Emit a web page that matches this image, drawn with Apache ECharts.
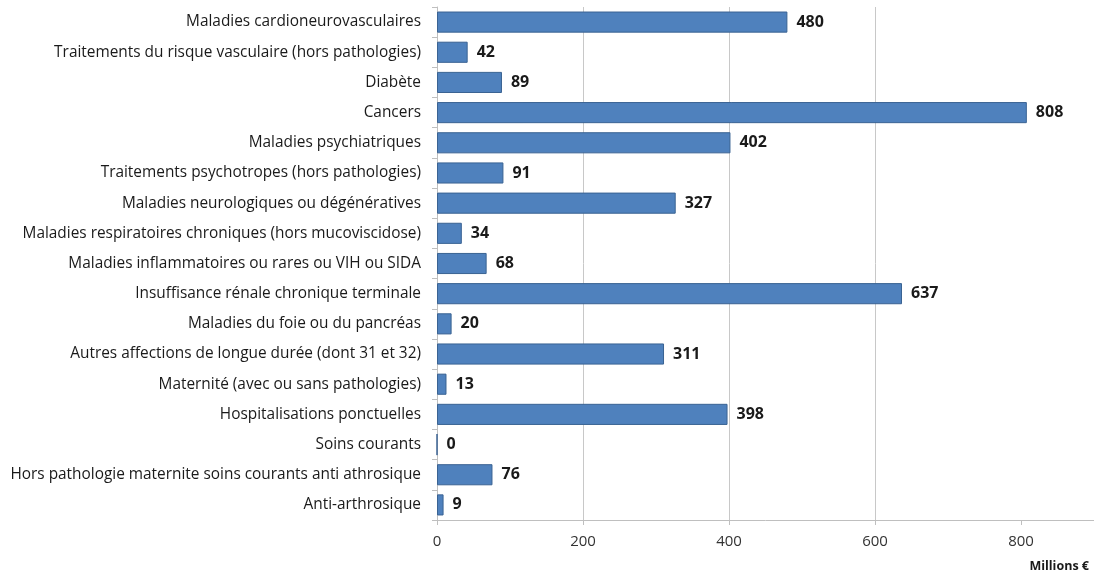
<!DOCTYPE html>
<html><head><meta charset="utf-8">
<script src="https://cdn.jsdelivr.net/npm/echarts@6/dist/echarts.min.js"></script>
<style>html,body{margin:0;padding:0;background:#fff}#c{width:1094px;height:575px}</style>
</head><body><div id="c"></div>
<script>
const categories = [
  "Maladies cardioneurovasculaires",
  "Traitements du risque vasculaire (hors pathologies)",
  "Diabète",
  "Cancers",
  "Maladies psychiatriques",
  "Traitements psychotropes (hors pathologies)",
  "Maladies neurologiques ou dégénératives",
  "Maladies respiratoires chroniques (hors mucoviscidose)",
  "Maladies inflammatoires ou rares ou VIH ou SIDA",
  "Insuffisance rénale chronique terminale",
  "Maladies du foie ou du pancréas",
  "Autres affections de longue durée (dont 31 et 32)",
  "Maternité (avec ou sans pathologies)",
  "Hospitalisations ponctuelles",
  "Soins courants",
  "Hors pathologie maternite soins courants anti athrosique",
  "Anti-arthrosique"
];
const values = [480, 42, 89, 808, 402, 91, 327, 34, 68, 637, 20, 311, 13, 398, 0, 76, 9];
const xTicks = [0, 200, 400, 600, 800];
const unitLabel = "Millions €";

const font = "Open Sans";
const chart = echarts.init(document.getElementById('c'));
chart.setOption({
  animation: false,
  grid: { left: 437, top: 7, width: 659, height: 513, containLabel: false },
  xAxis: {
    type: 'value', min: 0, max: 900, interval: 100,
    axisLine: { show: true, lineStyle: { color: '#BFBFBF' } },
    axisTick: { show: true, length: 5, lineStyle: { color: '#BFBFBF' },
      customValues: xTicks },
    splitLine: { show: true, lineStyle: { color: '#C8C8C8', width: 1 },
      showMinLine: false, showMaxLine: false },
    axisLabel: {
      customValues: xTicks,
      color: '#333', fontFamily: font, fontSize: 15, margin: 14
    }
  },
  yAxis: {
    type: 'category', data: categories, inverse: true,
    axisLine: { show: true, lineStyle: { color: '#BFBFBF' } },
    axisTick: { show: true, length: 5, lineStyle: { color: '#BFBFBF' } },
    axisLabel: { color: '#1a1a1a', fontFamily: font, fontSize: 15.4, margin: 16 }
  },
  graphic: [{
    type: 'text', right: 5, top: 560,
    style: { text: unitLabel, fontFamily: font, fontWeight: 'bold', fontSize: 12.5, fill: '#1a1a1a' }
  }],
  series: [{
    type: 'bar', data: values, barCategoryGap: '30%',
    itemStyle: { color: '#4F81BD', borderColor: '#3A6393', borderWidth: 1 },
    label: { show: true, position: 'right', distance: 9,
      fontFamily: font, fontWeight: 'bold', fontSize: 16, color: '#1a1a1a' }
  }]
});
</script></body></html>
